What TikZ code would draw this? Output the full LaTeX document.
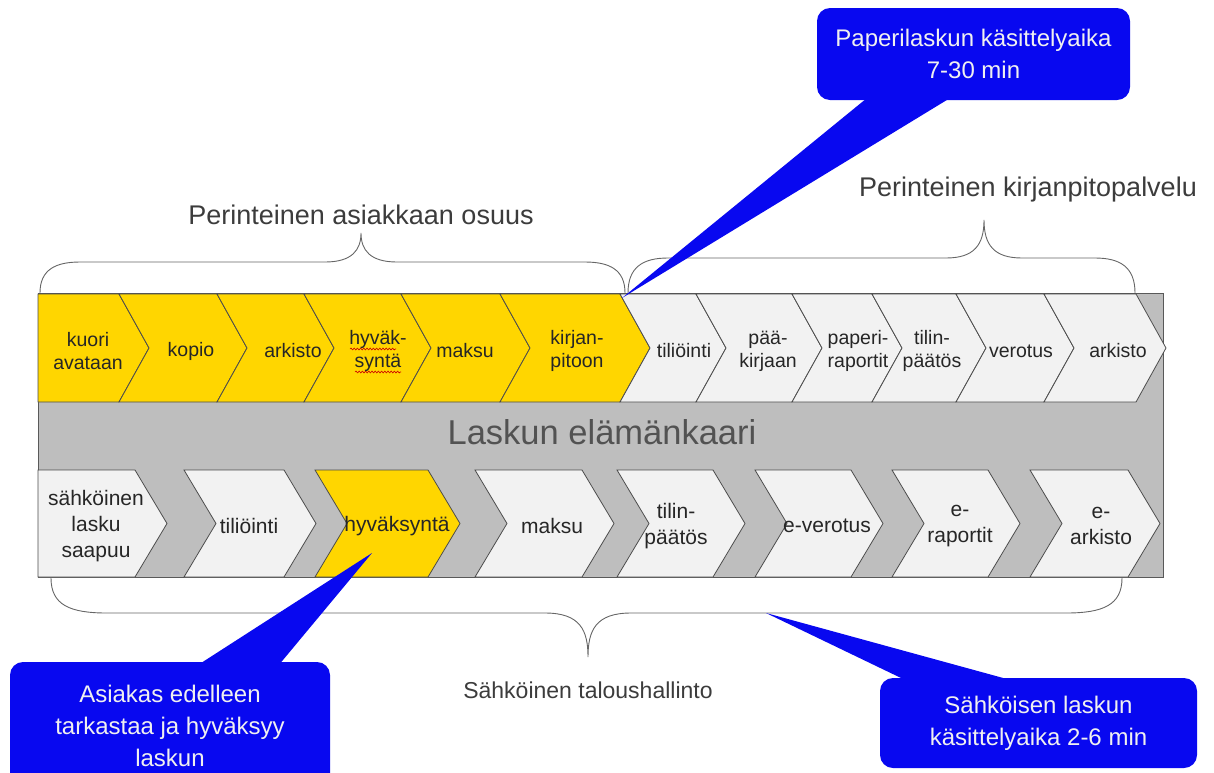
\documentclass[tikz,border=0pt]{standalone}
\usepackage{fontspec}
\setmainfont{Liberation Sans}
\usepackage{xcolor}
\usetikzlibrary{decorations.pathmorphing}

\definecolor{cellgold}{RGB}{255,214,0}
\definecolor{cellpale}{RGB}{242,242,242}
\definecolor{lanegray}{RGB}{190,190,190}
\definecolor{calloutblue}{RGB}{8,8,240}
\definecolor{inkgray}{RGB}{60,60,60}

\begin{document}
\begin{tikzpicture}[x=1pt, y=-1pt,
  every node/.style={inner sep=0pt},
  cell/.style={draw=black!70, line width=0.8pt, line join=miter},
  goldcell/.style={cell, fill=cellgold},
  palecell/.style={cell, fill=cellpale},
  toplab/.style={align=center, font=\fontsize{19.5}{23}\selectfont, text=black!85},
  lowlab/.style={align=center, font=\fontsize{21}{26}\selectfont, text=black!85},
  bracelab/.style={font=\fontsize{27}{32}\selectfont, text=inkgray},
  curly/.style={draw=black!60, line width=0.9pt},
  callout/.style={fill=calloutblue, rounded corners=13pt, align=center,
    text=white!94!black, font=\fontsize{24}{32}\selectfont},
  pointer/.style={fill=calloutblue},
  squiggle/.style={draw=red!80!black, line width=0.6pt, decorate,
    decoration={snake, amplitude=0.9pt, segment length=3.2pt}}]

  \useasboundingbox (0,0) rectangle (1214,772);
  \clip (0,0) rectangle (1214,772);

  % braces and their labels
  \draw[curly] (40,293) .. controls (40,270) and (55,262) .. (80,262) -- (325,262)
    .. controls (352,262) and (361,250) .. (361,233)
    .. controls (361,250) and (370,262) .. (397,262) -- (585,262)
    .. controls (610,262) and (625,270) .. (625,293);
  \draw[curly] (628,293) .. controls (628,267) and (643,258) .. (668,258) -- (946,258)
    .. controls (974,258) and (984,245) .. (984,220)
    .. controls (984,245) and (994,258) .. (1022,258) -- (1095,258)
    .. controls (1120,258) and (1135,267) .. (1135,293);
  \draw[curly] (51,578) .. controls (51,605) and (70,613) .. (107,613) -- (545,613)
    .. controls (580,613) and (588,630) .. (588,657)
    .. controls (588,630) and (596,613) .. (631,613) -- (1066,613)
    .. controls (1103,613) and (1122,605) .. (1122,578);
  \node[bracelab] (oldcust) at (361,215) {Perinteinen asiakkaan osuus};
  \node[bracelab] (oldbook) at (1028,190) {Perinteinen kirjanpitopalvelu};
  \node[bracelab, font=\fontsize{23}{28}\selectfont] (efin) at (588,690) {Sähköinen taloushallinto};

  % lane
  \draw[fill=lanegray, draw=black!65, line width=0.8pt] (38,293) rectangle (1163,577);
  \node[font=\fontsize{34.5}{40}\selectfont, text=black!68] (lane) at (602,432) {Laskun elämänkaari};

  % paper row
  \foreach \a/\b/\n/\s in {38/119/0/goldcell, 119/217/30/goldcell, 217/304/30/goldcell,
      304/401/30/goldcell, 401/500/30/goldcell, 500/620/30/goldcell, 620/696/30/palecell,
      696/792/30/palecell, 792/872/30/palecell, 872/956/30/palecell, 956/1044/30/palecell,
      1044/1136/30/palecell}
    \draw[\s] (\a,294) -- (\b,294) -- ({\b+30},348) -- (\b,402) -- (\a,402) -- ({\a+\n},348) -- cycle;
  \foreach \x/\t [count=\i] in {88/{kuori\\avataan}, 191/kopio, 293/arkisto,
      378/{hyväk-\\syntä}, 465/maksu, 577/{kirjan-\\pitoon}, 684/tiliöinti,
      768/{pää-\\kirjaan}, 858/{paperi-\\raportit}, 932/{tilin-\\päätös},
      1021/verotus, 1118/arkisto}
    \node[toplab] (top\i) at (\x,351) {\t};
  \draw[squiggle] (350,349) -- (396,349);
  \draw[squiggle] (355,372) -- (401,372);

  % electronic row
  \foreach \a/\b/\n/\s in {38/135/0/palecell, 184/284/32/palecell, 315/428/32/goldcell,
      475/582/32/palecell, 617/713/32/palecell, 755/851/32/palecell, 892/988/32/palecell,
      1030/1128/32/palecell}
    \draw[\s] (\a,470) -- (\b,470) -- ({\b+32},523.5) -- (\b,577) -- (\a,577) -- ({\a+\n},523.5) -- cycle;
  \foreach \x/\t [count=\i] in {96/{sähköinen\\lasku\\saapuu}, 249/tiliöinti,
      397/hyväksyntä, 552/maksu, 676/{tilin-\\päätös}, 827/e-verotus,
      960/{e-\\raportit}, 1101/{e-\\arkisto}}
    \node[lowlab] (low\i) at (\x,526) {\t};

  % callouts
  \node[callout, minimum width=313pt, minimum height=92pt] (paper) at (973.5,54)
    {Paperilaskun käsittelyaika\\7-30 min};
  \coordinate (paperTip) at (622,298);
  \fill[pointer] ([xshift=50pt, yshift=2pt]paper.south west) -- (paperTip)
    -- ([xshift=133pt, yshift=2pt]paper.south west) -- cycle;

  \node[callout, minimum width=320pt, minimum height=128pt] (check) at (170,726)
    {Asiakas edelleen\\tarkastaa ja hyväksyy\\laskun};
  \coordinate (checkTip) at (372,553);
  \fill[pointer] ([xshift=190pt, yshift=-2pt]check.north west) -- (checkTip)
    -- ([xshift=270pt, yshift=-2pt]check.north west) -- cycle;

  \node[callout, minimum width=317pt, minimum height=90pt] (etime) at (1038.5,723)
    {Sähköisen laskun\\käsittelyaika 2-6 min};
  \coordinate (etimeTip) at (766,613);
  \fill[pointer] ([xshift=25pt, yshift=-2pt]etime.north west) -- (etimeTip)
    -- ([xshift=130pt, yshift=-2pt]etime.north west) -- cycle;
\end{tikzpicture}
\end{document}
